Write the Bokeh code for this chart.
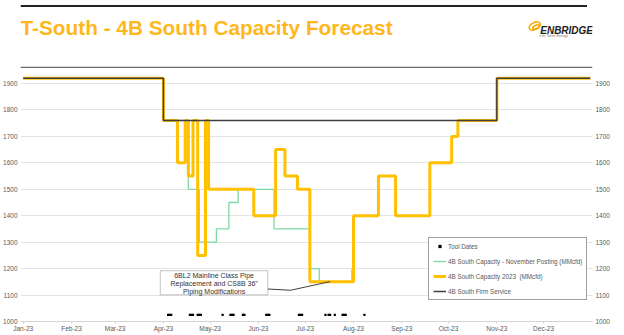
import pandas as pd
from bokeh.plotting import figure
from bokeh.models import (Range1d, LinearAxis, FixedTicker, DatetimeTickFormatter, Legend,
                          LegendItem, BoxAnnotation, Label)
from bokeh.layouts import column
from bokeh.core.properties import value
from bokeh.embed import file_html
from bokeh.resources import INLINE

# ---------------- data ----------------
firm_dates = ["2023-01-01", "2023-04-01", "2023-11-01", "2023-12-31"]
firm_vals = [1920, 1760, 1920, 1920]

cap2023_dates = ["2023-01-01", "2023-04-01", "2023-04-10", "2023-04-15", "2023-04-17", "2023-04-20",
                 "2023-04-23", "2023-04-28", "2023-04-30", "2023-05-29", "2023-06-12", "2023-06-18",
                 "2023-06-26", "2023-07-04", "2023-08-01", "2023-08-17", "2023-08-28", "2023-09-19",
                 "2023-10-03", "2023-10-07", "2023-11-01", "2023-12-31"]
cap2023_vals = [1920, 1760, 1600, 1760, 1550, 1760,
                1250, 1760, 1500, 1400, 1650, 1550,
                1500, 1150, 1400, 1550, 1400, 1600,
                1700, 1760, 1920, 1920]

nov_dates = ["2023-01-01", "2023-04-01", "2023-04-17", "2023-04-24", "2023-05-05", "2023-05-13",
             "2023-05-19", "2023-06-11", "2023-07-04", "2023-07-10", "2023-07-31"]
nov_vals = [1920, 1760, 1500, 1300, 1350, 1450,
            1500, 1350, 1200, 1150, 1200]

tool_dates = ["2023-04-04", "2023-04-05", "2023-04-06",
              "2023-04-18", "2023-04-19", "2023-04-20",
              "2023-04-23", "2023-04-24", "2023-04-25",
              "2023-05-09",
              "2023-05-14", "2023-05-15", "2023-05-16",
              "2023-05-22", "2023-05-23",
              "2023-06-06", "2023-06-07", "2023-06-08",
              "2023-06-27", "2023-06-28", "2023-06-29",
              "2023-07-14", "2023-07-16", "2023-07-17",
              "2023-07-20",
              "2023-07-25", "2023-07-26", "2023-07-27",
              "2023-08-08"]
tool_level = 1025

month_ticks = pd.date_range("2023-01-01", "2023-12-01", freq="MS")
y_ticks = list(range(1000, 2000, 100))

title_text = "T-South - 4B South Capacity Forecast"
legend_labels = ["Tool Dates", "4B South Capacity - November Posting (MMcfd)",
                 "4B South Capacity 2023  (MMcfd)", "4B South Firm Service"]
note_lines = ["6BL2 Mainline Class Pipe", "Replacement and CS8B 36\u201d", "Piping Modifications"]

# annotation placement (data coordinates)
note_box = dict(left="2023-03-30T00:00", right="2023-06-07T00:00", bottom=1101, top=1192)
note_center = "2023-05-03T12:00"
note_line_y = [1173, 1144, 1114]
leader_x = ["2023-06-07T00:00", "2023-06-21T14:00", "2023-07-17T00:00"]
leader_y = [1123, 1118, 1151]

# ---------------- styling ----------------
FONT = "Liberation Sans"
GOLD = "#FFC000"
GREEN = "#7FD8A4"
DARK = "#3F3F3F"
TICK_GREY = "#595959"


def ms(s):
    return pd.Timestamp(s).value / 1e6


# ---------------- header ----------------
head = figure(width=624, height=68, x_range=Range1d(0, 624), y_range=Range1d(68, 0),
              toolbar_location=None, output_backend="svg", min_border=0)
head.axis.visible = False
head.grid.visible = False
head.outline_line_color = None
head.segment(x0=0, y0=5.5, x1=618, y1=5.5, line_color="#222222", line_width=2.2)
head.segment(x0=0, y0=67, x1=624, y1=67, line_color="#6a6a6a", line_width=1.5)
head.add_layout(Label(x=0, y=26.5, text=title_text, text_font=FONT, text_font_style="bold",
                      text_font_size="20.8px", text_color="#FFB71B", text_baseline="alphabetic"))
head.ellipse(x=[561, 562.5], y=[25.5, 26.5], width=[13, 8], height=[7, 3.5], angle=[0.45, 0.45],
             fill_color=None, line_color="#F5A800", line_width=1.6)
head.add_layout(Label(x=567, y=30, text="ENBRIDGE", text_font=FONT, text_font_style="bold italic",
                      text_font_size="10px", text_color="#222222", text_baseline="alphabetic"))
head.add_layout(Label(x=566, y=35.5, text="Life Takes Energy", text_font=FONT,
                      text_font_size="3.6px", text_color="#777777", text_baseline="alphabetic"))

# ---------------- chart ----------------
x0 = pd.Timestamp("2023-01-01")
p = figure(frame_width=572, frame_height=249, x_axis_type="datetime",
           x_range=Range1d(x0 - pd.Timedelta(days=1.73), x0 + pd.Timedelta(days=365.4)),
           y_range=Range1d(1000, 1941.6),
           toolbar_location=None, output_backend="svg",
           min_border_left=20, min_border_right=32, min_border_top=4, min_border_bottom=14)
p.outline_line_color = None
p.xgrid.visible = False
p.ygrid.ticker = FixedTicker(ticks=y_ticks)
p.ygrid.grid_line_color = "#e4e4e4"
p.ygrid.grid_line_width = 1

xa = p.xaxis[0]
xa.ticker = FixedTicker(ticks=[t.value / 1e6 for t in month_ticks])
xa.formatter = DatetimeTickFormatter(years="%b-%y", months="%b-%y", days="%b-%y", hours="%b-%y")
xa.axis_line_color = "#d4d4d4"
xa.major_tick_line_color = "#d4d4d4"
xa.major_tick_in = 0
xa.major_tick_out = 2
xa.minor_tick_line_color = None
xa.minor_tick_in = 0
xa.minor_tick_out = 0
xa.major_label_standoff = 1
xa.major_label_text_font = FONT
xa.major_label_text_font_size = "6.5px"
xa.major_label_text_color = TICK_GREY

ya = p.yaxis[0]
ya.ticker = FixedTicker(ticks=y_ticks)
ya_r = LinearAxis(ticker=FixedTicker(ticks=y_ticks))
p.add_layout(ya_r, "right")
for ax in (ya, ya_r):
    ax.axis_line_color = None
    ax.major_tick_line_color = None
    ax.minor_tick_line_color = None
    ax.major_tick_in = 0
    ax.major_tick_out = 0
    ax.minor_tick_in = 0
    ax.minor_tick_out = 0
    ax.major_label_standoff = 3
    ax.major_label_text_font = FONT
    ax.major_label_text_font_size = "6.5px"
    ax.major_label_text_color = TICK_GREY

r_nov = p.step(pd.to_datetime(nov_dates), nov_vals, mode="after", line_color=GREEN, line_width=1.3)
r_cap = p.step(pd.to_datetime(cap2023_dates), cap2023_vals, mode="after", line_color=GOLD, line_width=3)
r_firm = p.step(pd.to_datetime(firm_dates), firm_vals, mode="after", line_color=DARK, line_width=1.5)
r_tool = p.scatter(pd.to_datetime(tool_dates), [tool_level] * len(tool_dates), marker="square",
                   size=2.2, fill_color="black", line_color=None)

# annotation callout
p.line(pd.to_datetime(leader_x, format="ISO8601"), leader_y, line_color=DARK, line_width=1)
p.add_layout(BoxAnnotation(left=ms(note_box["left"]), right=ms(note_box["right"]),
                           bottom=note_box["bottom"], top=note_box["top"],
                           fill_color="white", fill_alpha=1, line_color=DARK, line_width=1))
for txt, yy in zip(note_lines, note_line_y):
    p.add_layout(Label(x=ms(note_center), y=yy, text=txt, text_align="center", text_baseline="middle",
                       text_font=FONT, text_font_size="7px", text_color="#333333"))

legend = Legend(items=[LegendItem(label=legend_labels[0], renderers=[r_tool]),
                       LegendItem(label=legend_labels[1], renderers=[r_nov]),
                       LegendItem(label=legend_labels[2], renderers=[r_cap]),
                       LegendItem(label=legend_labels[3], renderers=[r_firm])],
                location=(408, 21), orientation="vertical",
                label_text_font=FONT, label_text_font_size="6.3px", label_text_color=TICK_GREY,
                glyph_width=13, glyph_height=8, label_height=8, spacing=7, padding=4, margin=0,
                label_standoff=2, border_line_color=DARK, border_line_width=1,
                background_fill_color="white", background_fill_alpha=1)
p.add_layout(legend)

layout = column(head, p, spacing=0)
open("out.html", "w").write(file_html(layout, INLINE))
